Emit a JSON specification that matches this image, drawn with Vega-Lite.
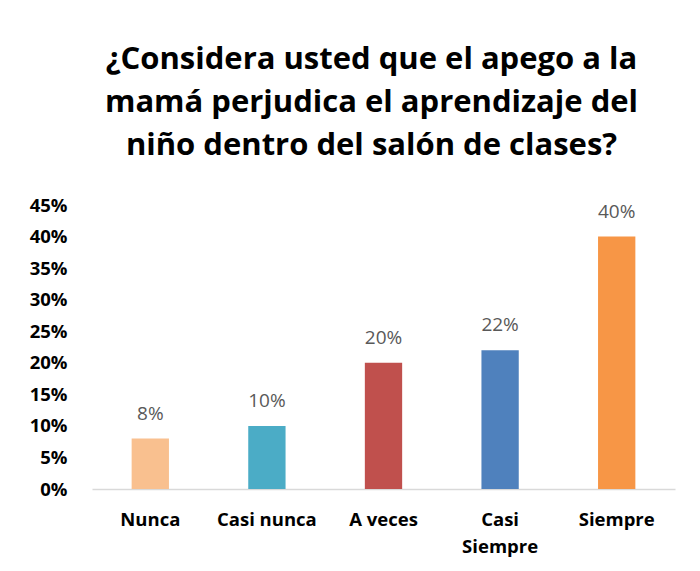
{
  "$schema": "https://vega.github.io/schema/vega-lite/v6.json",
  "width": 583,
  "height": 284,
  "autosize": {"type": "none"},
  "padding": {"left": 92, "top": 205, "right": 25, "bottom": 82},
  "background": "white",
  "title": {
    "text": ["¿Considera usted que el apego a la", "mamá perjudica el aprendizaje del", "niño dentro del salón de clases?"],
    "font": "Open Sans",
    "fontSize": 31,
    "fontWeight": "bold",
    "color": "#000000",
    "lineHeight": 43,
    "anchor": "middle",
    "dx": -12,
    "offset": 34
  },
  "data": {
    "values": [
      {"cat": "Nunca", "val": 0.08, "order": 1},
      {"cat": "Casi nunca", "val": 0.10, "order": 2},
      {"cat": "A veces", "val": 0.20, "order": 3},
      {"cat": "Casi Siempre", "val": 0.22, "order": 4},
      {"cat": "Siempre", "val": 0.40, "order": 5}
    ]
  },
  "encoding": {
    "x": {
      "field": "cat",
      "type": "nominal",
      "sort": {"field": "order"},
      "scale": {"paddingInner": 0.68, "paddingOuter": 0.34},
      "axis": {
        "title": null,
        "labelAngle": 0,
        "ticks": false,
        "domainColor": "#d9d9d9",
        "domainWidth": 1.5,
        "labelFont": "Open Sans",
        "labelFontSize": 18.5,
        "labelFontWeight": "bold",
        "labelColor": "#000000",
        "labelPadding": 21,
        "labelLineHeight": 27,
        "labelExpr": "datum.label == 'Casi Siempre' ? ['Casi', 'Siempre'] : datum.label"
      }
    },
    "y": {
      "field": "val",
      "type": "quantitative",
      "scale": {"domain": [0, 0.45]},
      "axis": {
        "title": null,
        "format": ".0%",
        "values": [0, 0.05, 0.1, 0.15, 0.2, 0.25, 0.3, 0.35, 0.4, 0.45],
        "grid": false,
        "domain": false,
        "ticks": false,
        "labelFont": "Open Sans",
        "labelFontSize": 18.5,
        "labelFontWeight": "bold",
        "labelColor": "#000000",
        "labelPadding": 25
      }
    }
  },
  "layer": [
    {
      "mark": {"type": "bar"},
      "encoding": {
        "color": {
          "field": "cat",
          "type": "nominal",
          "scale": {
            "domain": ["Nunca", "Casi nunca", "A veces", "Casi Siempre", "Siempre"],
            "range": ["#F9C08F", "#4BACC6", "#C0504D", "#4F81BD", "#F79646"]
          },
          "legend": null
        }
      }
    },
    {
      "mark": {"type": "text", "baseline": "bottom", "dy": -15, "font": "Open Sans", "fontSize": 19, "color": "#595959"},
      "encoding": {
        "text": {"field": "val", "type": "quantitative", "format": ".0%"}
      }
    }
  ],
  "config": {"view": {"stroke": null}}
}
